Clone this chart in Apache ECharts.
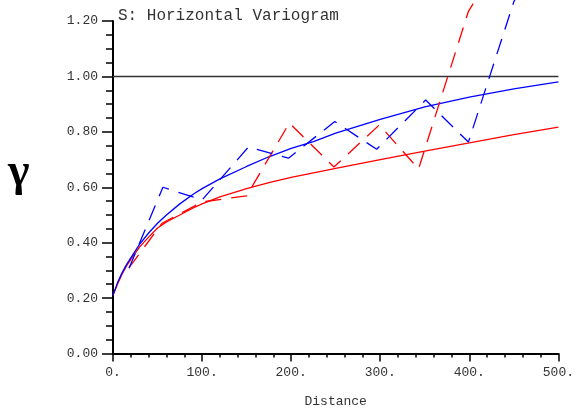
<!DOCTYPE html>
<html>
<head>
<meta charset="utf-8">
<script src="https://cdn.jsdelivr.net/npm/echarts@6/dist/echarts.min.js"></script>
<style>html,body{margin:0;padding:0;background:#fff}#c{width:577px;height:416px}</style>
</head>
<body>
<div id="c"></div>
<script>
// ---- data ----
const titleText = 'S: Horizontal Variogram';
const xName = 'Distance';
const yName = 'γ';
const sill = 1.0;
const xTicks = [0, 100, 200, 300, 400, 500];
const yTicks = [0, 0.2, 0.4, 0.6, 0.8, 1.0, 1.2];

// model curves
const modelX = [0, 5, 10, 15, 20, 30, 40, 50, 60, 75, 90, 100, 120, 150, 175, 200, 225, 250, 300, 350, 400, 450, 500];
const modelBlue = [0.21, 0.255, 0.29, 0.32, 0.345, 0.395, 0.435, 0.47, 0.50, 0.54, 0.575, 0.595, 0.63, 0.675, 0.71, 0.74, 0.765, 0.795, 0.845, 0.89, 0.925, 0.955, 0.98];
const modelRed  = [0.21, 0.25, 0.285, 0.315, 0.34, 0.385, 0.42, 0.453, 0.475, 0.50, 0.525, 0.54, 0.565, 0.595, 0.617, 0.636, 0.652, 0.668, 0.70, 0.73, 0.76, 0.79, 0.817];

// experimental variograms
const expBlueX = [18, 56, 100, 152, 197, 249, 296, 351, 399, 450, 500];
const expBlueY = [0.308, 0.60, 0.554, 0.745, 0.705, 0.837, 0.737, 0.915, 0.763, 1.27, 1.55];
const expRedX  = [18, 55, 100, 150, 198, 248, 299, 343, 399, 450];
const expRedY  = [0.31, 0.47, 0.547, 0.569, 0.832, 0.673, 0.825, 0.666, 1.235, 1.5];

const zip = (xs, ys) => xs.map((x, i) => [x, ys[i]]);
const mono = 'Liberation Mono';

const chart = echarts.init(document.getElementById('c'), null, {renderer: 'canvas'});
chart.setOption({
  animation: false,
  backgroundColor: '#fff',
  title: {
    text: titleText, left: 113, top: 3,
    textStyle: {fontFamily: mono, fontSize: 16, fontWeight: 'normal', color: '#333'}
  },
  graphic: [{
    type: 'text', left: 8, top: 150,
    style: {text: yName, font: 'bold 46px "Liberation Serif"', fill: '#000'}
  }],
  grid: {left: 113, right: 15.5, top: 21, bottom: 62.5, containLabel: false},
  xAxis: {
    type: 'value', min: xTicks[0], max: xTicks[xTicks.length - 1], interval: 100,
    name: xName, nameLocation: 'middle', nameGap: 42,
    nameTextStyle: {fontFamily: mono, fontSize: 13, color: '#333'},
    axisLine: {show: true, onZero: false, lineStyle: {color: '#000', width: 2}},
    axisTick: {show: true, length: 8, lineStyle: {color: '#000', width: 1.5}},
    minorTick: {show: true, splitNumber: 5, length: 4, lineStyle: {color: '#000', width: 1.5}},
    splitLine: {show: false},
    axisLabel: {margin: 13, fontFamily: mono, fontSize: 13, color: '#333',
      formatter: v => v + '.'}
  },
  yAxis: {
    type: 'value', min: yTicks[0], max: yTicks[yTicks.length - 1], interval: 0.2,
    axisLine: {show: true, onZero: false, lineStyle: {color: '#000', width: 2}},
    axisTick: {show: true, length: 11, lineStyle: {color: '#000', width: 1.5}},
    minorTick: {show: true, splitNumber: 4, length: 7, lineStyle: {color: '#000', width: 1.5}},
    splitLine: {show: false},
    axisLabel: {margin: 15, fontFamily: mono, fontSize: 13, color: '#333',
      formatter: v => v.toFixed(2)}
  },
  series: [
    {type: 'line', data: [[xTicks[0], sill], [xTicks[xTicks.length - 1], sill]], showSymbol: false,
     lineStyle: {color: '#333', width: 1.5}, silent: true},
    {type: 'line', data: zip(modelX, modelRed), showSymbol: false, smooth: false,
     lineStyle: {color: '#ff0000', width: 1.3}},
    {type: 'line', data: zip(modelX, modelBlue), showSymbol: false, smooth: false,
     lineStyle: {color: '#0000ff', width: 1.3}},
    {type: 'line', data: zip(expRedX, expRedY), showSymbol: false, clip: false,
     lineStyle: {color: '#ff0000', width: 1.3, type: [16, 10]}},
    {type: 'line', data: zip(expBlueX, expBlueY), showSymbol: false, clip: false,
     lineStyle: {color: '#0000ff', width: 1.3, type: [16, 10]}}
  ]
});
</script>
</body>
</html>
